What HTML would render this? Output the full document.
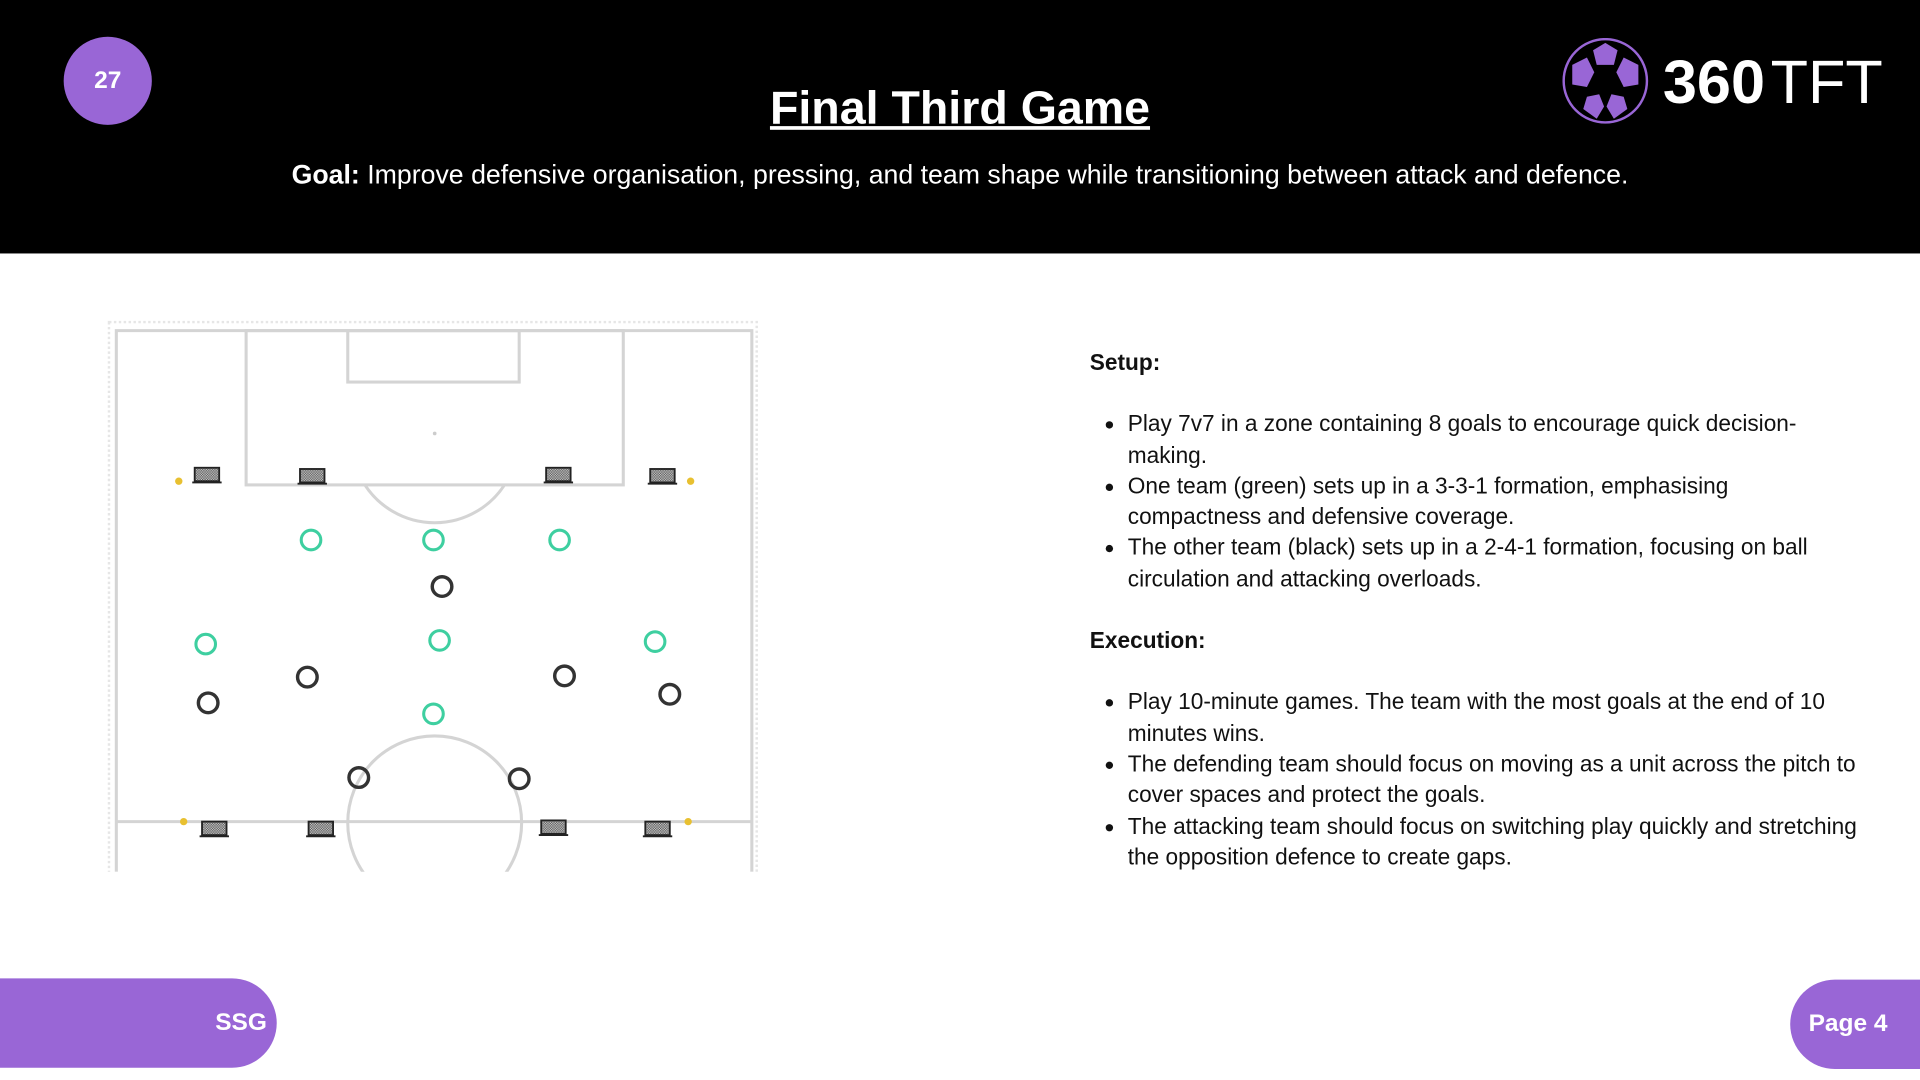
<!DOCTYPE html>
<html><head><style>
html,body{margin:0;padding:0;width:1920px;height:1080px;overflow:hidden;background:#fff;font-family:"Liberation Sans",Arial,sans-serif}
#w{width:1568px;height:882px;transform:scale(1.22449);transform-origin:0 0;position:relative}
.hdr{position:absolute;left:0;top:0;width:1568px;height:207px;background:#000}
.num{position:absolute;left:52px;top:30px;width:72px;height:72px;border-radius:50%;background:#9966d6;color:#fff;font-weight:bold;font-size:20px;text-align:center;line-height:72px}
.title{position:absolute;left:0;width:1568px;top:68px;text-align:center;color:#fff;font-weight:bold;font-size:38px;text-decoration:underline}
.goal{position:absolute;left:0;width:1568px;top:130px;text-align:center;color:#fff;font-size:21.8px}
.txt{position:absolute;left:890px;top:283px;width:632px;font-size:18.5px;color:#111;line-height:25.3px}
.txt ul{margin:25px 0 25px 0;padding-left:31px}
.txt h4{margin:0;font-size:18.5px}
.ssg{position:absolute;left:0;top:799px;width:226px;height:73px;background:#9966d6;border-radius:0 37px 37px 0;color:#fff;font-weight:bold;font-size:20px;line-height:73px;text-align:right;box-sizing:border-box;padding-right:8px}
.pg{position:absolute;left:1462px;top:800px;width:120px;height:73px;background:#9966d6;border-radius:37px 0 0 37px;color:#fff;font-weight:bold;font-size:20px;line-height:73px;padding-left:15px;box-sizing:border-box}
</style></head><body><div id="w">
<div class="hdr"></div>
<div class="num">27</div>
<div class="title">Final Third Game</div>
<div class="goal"><b>Goal:</b> Improve defensive organisation, pressing, and team shape while transitioning between attack and defence.</div>
<svg style="position:absolute;left:1276px;top:31px" width="264" height="72">
<circle cx="35" cy="35" r="34" fill="none" stroke="#9966d6" stroke-width="2"/>
<circle cx="35" cy="35" r="31" fill="#000"/>
<g fill="#9966d6">
<polygon points="35,4 45,10 42,22 28,22 25,10"/>
<polygon points="8,22 20,16 26,28 20,40 8,38"/>
<polygon points="62,22 50,16 44,28 50,40 62,38"/>
<polygon points="20,48 30,46 34,56 28,66 17,58"/>
<polygon points="50,48 40,46 36,56 42,66 53,58"/>
</g>
<text x="82" y="53" fill="#fff" font-size="50" font-family="Liberation Sans" font-weight="bold">360</text>
<text x="170" y="53" fill="#fff" font-size="50" font-family="Liberation Sans">TFT</text>
</svg>
<svg style="position:absolute;left:0;top:0" width="700" height="882">
<defs><pattern id="m" width="2" height="2" patternUnits="userSpaceOnUse"><rect width="2" height="2" fill="#555"/><rect width="1" height="1" fill="#ccc"/><rect x="1" y="1" width="1" height="1" fill="#ccc"/></pattern>
<g id="g"><rect x="-10" y="-6" width="20" height="11" fill="url(#m)" stroke="#222" stroke-width="1.5"/><line x1="-12" y1="6" x2="12" y2="6" stroke="#222" stroke-width="1.5"/></g>
<clipPath id="c"><rect x="0" y="0" width="700" height="712"/></clipPath></defs>
<rect x="89" y="263" width="529" height="460" fill="none" stroke="#e6e6e6" stroke-width="2" stroke-dasharray="2,2"/>
<g stroke="#d4d4d4" stroke-width="2.5" fill="none" clip-path="url(#c)">
<path d="M95,712 V270 H614 V712"/>
<rect x="201" y="270" width="308" height="126"/>
<rect x="284" y="270" width="140" height="42"/>
<path d="M298,396 A68,68 0 0 0 412,396"/>
<line x1="95" y1="671" x2="614" y2="671"/>
<circle cx="355" cy="672" r="71"/>
</g>
<rect x="0" y="712" width="700" height="20" fill="#fff"/>
<circle cx="355" cy="354" r="1.5" fill="#ccc"/>
<use href="#g" x="169" y="388"/><use href="#g" x="255" y="389"/><use href="#g" x="456" y="388"/><use href="#g" x="541" y="389"/>
<use href="#g" x="175" y="677"/><use href="#g" x="262" y="677"/><use href="#g" x="452" y="676"/><use href="#g" x="537" y="677"/>
<g fill="#e8c030"><circle cx="146" cy="393" r="3"/><circle cx="564" cy="393" r="3"/><circle cx="150" cy="671" r="3"/><circle cx="562" cy="671" r="3"/></g>
<g fill="none" stroke="#3ecfa0" stroke-width="2.5"><circle cx="254" cy="441" r="8"/><circle cx="354" cy="441" r="8"/><circle cx="457" cy="441" r="8"/><circle cx="168" cy="526" r="8"/><circle cx="359" cy="523" r="8"/><circle cx="535" cy="524" r="8"/><circle cx="354" cy="583" r="8"/></g>
<g fill="none" stroke="#333" stroke-width="2.8"><circle cx="361" cy="479" r="8"/><circle cx="251" cy="553" r="8"/><circle cx="461" cy="552" r="8"/><circle cx="170" cy="574" r="8"/><circle cx="547" cy="567" r="8"/><circle cx="293" cy="635" r="8"/><circle cx="424" cy="636" r="8"/></g>
</svg>
<div class="txt"><h4>Setup:</h4>
<ul><li>Play 7v7 in a zone containing 8 goals to encourage quick decision-making.</li><li>One team (green) sets up in a 3-3-1 formation, emphasising compactness and defensive coverage.</li><li>The other team (black) sets up in a 2-4-1 formation, focusing on ball circulation and attacking overloads.</li></ul>
<h4>Execution:</h4>
<ul><li>Play 10-minute games. The team with the most goals at the end of 10 minutes wins.</li><li>The defending team should focus on moving as a unit across the pitch to cover spaces and protect the goals.</li><li>The attacking team should focus on switching play quickly and stretching the opposition defence to create gaps.</li></ul></div>
<div class="ssg">SSG</div>
<div class="pg">Page 4</div>
</div></body></html>
